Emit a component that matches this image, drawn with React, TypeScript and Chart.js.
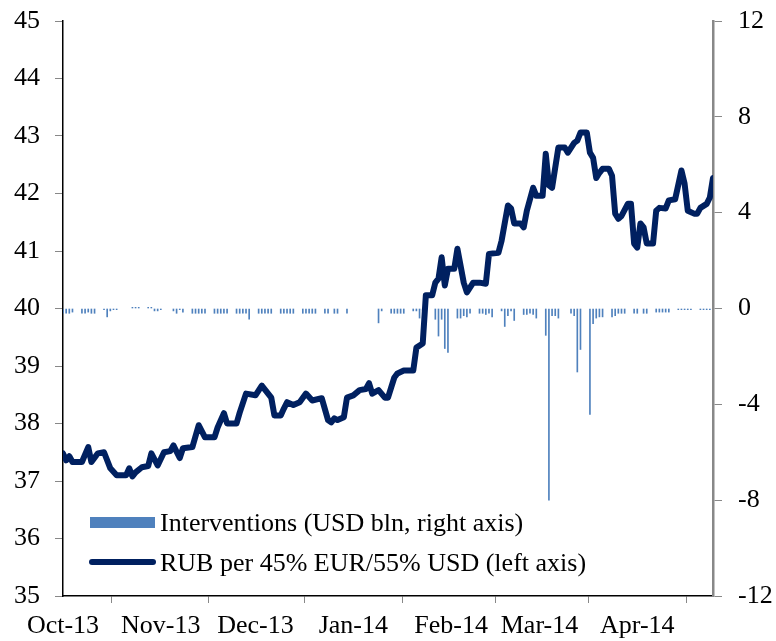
import React, { useEffect, useRef } from "react";
import { Chart, registerables } from "chart.js";

Chart.register(...registerables);

// Day offsets counted from 1 Oct 2013
const MONTH_DAYS = [0, 31, 61, 92, 123, 151, 182];
const MONTH_LABELS = ["Oct-13", "Nov-13", "Dec-13", "Jan-14", "Feb-14", "Mar-14", "Apr-14"];
const X_MAX_DAY = 206;

const LINE_LABEL = "RUB per 45% EUR/55% USD (left axis)";
const BAR_LABEL = "Interventions (USD bln, right axis)";

const LINE_DAYS = [
  0, 1, 2, 3, 6, 8, 9, 11, 13, 15, 17, 20, 21, 22, 23, 25, 27, 28, 30, 32, 34, 35, 37, 38, 41, 43, 45, 48, 49,
  51, 52, 55, 56, 58, 61, 63, 66, 67, 69, 70, 71, 73, 75, 77, 79, 82, 84, 85, 86, 87, 89, 90, 92, 94, 96, 97,
  98, 100, 102, 103, 105, 106, 108, 111, 112, 114, 115, 117, 118, 119, 120, 121, 122, 124, 125, 127, 128, 130,
  132, 134, 135, 138, 139, 141, 142, 143, 145, 146, 147, 149, 150, 152, 153, 154, 155, 157, 159, 160, 162, 163,
  164, 166, 167, 168, 169, 170, 171, 173, 174, 175, 176, 177, 179, 180, 181, 182, 183, 184, 185, 187, 188, 189,
  191, 192, 194, 196, 197, 198, 200, 201, 202, 204, 205, 206,
];
const LINE_VALUES = [
  37.48, 37.36, 37.43, 37.33, 37.33, 37.59, 37.33, 37.48, 37.5, 37.22, 37.1, 37.1, 37.22, 37.08, 37.15, 37.24,
  37.26, 37.48, 37.27, 37.5, 37.52, 37.62, 37.4, 37.57, 37.59, 37.97, 37.76, 37.76, 37.93, 38.18, 38.0, 38.0,
  38.19, 38.52, 38.49, 38.66, 38.45, 38.14, 38.14, 38.26, 38.37, 38.32, 38.37, 38.52, 38.4, 38.44, 38.06, 38.02,
  38.09, 38.06, 38.11, 38.45, 38.49, 38.58, 38.6, 38.7, 38.52, 38.58, 38.45, 38.45, 38.8, 38.87, 38.92, 38.92,
  39.32, 39.39, 40.23, 40.23, 40.45, 40.52, 40.89, 40.4, 40.69, 40.69, 41.04, 40.45, 40.28, 40.45, 40.45, 40.43,
  40.95, 40.97, 41.18, 41.79, 41.74, 41.48, 41.48, 41.41, 41.7, 42.1, 41.96, 41.96, 42.69, 42.14, 42.1, 42.8,
  42.8, 42.71, 42.88, 42.92, 43.06, 43.06, 42.71, 42.62, 42.27, 42.36, 42.43, 42.43, 42.31, 41.65, 41.56, 41.61,
  41.82, 41.82, 41.13, 41.06, 41.48, 41.41, 41.13, 41.13, 41.7, 41.75, 41.74, 41.88, 41.9, 42.4, 42.17, 41.7,
  41.65, 41.65, 41.75, 41.82, 41.93, 42.27,
];

const BAR_DAYS = [
  0, 1, 2, 3, 6, 7, 8, 9, 10, 13, 14, 15, 16, 17, 22, 23, 24, 27, 28, 29, 30, 31, 35, 36, 37, 38, 41, 42, 43, 44,
  45, 48, 49, 50, 51, 52, 55, 56, 57, 58, 59, 62, 63, 64, 65, 66, 69, 70, 71, 72, 73, 76, 77, 78, 79, 80, 83, 84,
  86, 87, 90, 100, 101, 104, 105, 106, 107, 108, 111, 112, 113, 114, 118, 119, 120, 121, 122, 125, 126, 127, 128,
  129, 132, 133, 134, 135, 136, 139, 140, 141, 142, 143, 146, 147, 148, 149, 150, 153, 154, 155, 156, 157, 161,
  162, 163, 164, 167, 168, 169, 170, 171, 174, 175, 176, 177, 178, 181, 182, 184, 185, 188, 189, 190, 191, 192,
  195, 196, 197, 198, 199, 202, 203, 204, 205,
];
const BAR_VALUES = [
  -0.2, -0.2, -0.2, -0.15, -0.2, -0.2, -0.15, -0.2, -0.2, -0.05, -0.35, -0.1, -0.05, -0.05, 0.05, 0.05, 0.05,
  0.05, 0.05, -0.1, -0.1, -0.05, -0.1, -0.2, -0.05, -0.15, -0.2, -0.2, -0.2, -0.2, -0.2, -0.2, -0.2, -0.2, -0.2,
  -0.2, -0.2, -0.2, -0.2, -0.2, -0.45, -0.2, -0.2, -0.2, -0.2, -0.2, -0.2, -0.2, -0.2, -0.2, -0.2, -0.2, -0.2,
  -0.2, -0.2, -0.2, -0.2, -0.2, -0.2, -0.2, -0.2, -0.6, -0.1, -0.2, -0.2, -0.2, -0.2, -0.2, -0.1, -0.1, -0.4,
  -0.1, -0.45, -1.15, -0.45, -1.67, -1.83, -0.4, -0.4, -0.3, -0.35, -0.2, -0.2, -0.2, -0.25, -0.2, -0.35, -0.1,
  -0.75, -0.3, -0.1, -0.5, -0.25, -0.25, -0.2, -0.25, -0.4, -1.12, -8.0, -0.3, -0.3, -0.4, -0.2, -0.3, -2.65,
  -1.71, -4.42, -0.63, -0.4, -0.35, -0.35, -0.35, -0.3, -0.2, -0.2, -0.2, -0.2, -0.2, -0.2, -0.2, -0.15, -0.15,
  -0.15, -0.15, -0.15, -0.05, -0.05, -0.05, -0.05, -0.05, -0.05, -0.05, -0.05, -0.05,
];

const LINE_COLOR = "#002060";
const BAR_COLOR = "#4F81BD";
const FONT_FAMILY = "'Liberation Serif', 'Times New Roman', serif";
const FONT_SIZE = 26;

const legendPlugin = {
  id: "insideLegend",
  afterDraw(chart: any) {
    const { ctx, chartArea } = chart;
    const x0 = chartArea.left + 27;
    const x1 = chartArea.left + 92;
    const textX = chartArea.left + 97;
    ctx.save();
    ctx.fillStyle = BAR_COLOR;
    ctx.fillRect(x0, chartArea.bottom - 79, x1 - x0, 11);
    ctx.strokeStyle = LINE_COLOR;
    ctx.lineWidth = 6;
    ctx.lineCap = "round";
    ctx.beginPath();
    ctx.moveTo(x0 + 2, chartArea.bottom - 34);
    ctx.lineTo(x1 - 2, chartArea.bottom - 34);
    ctx.stroke();
    ctx.fillStyle = "#000";
    ctx.font = `${FONT_SIZE}px ${FONT_FAMILY}`;
    ctx.textAlign = "left";
    ctx.textBaseline = "alphabetic";
    ctx.fillText(BAR_LABEL, textX, chartArea.bottom - 65);
    ctx.fillText(LINE_LABEL, textX, chartArea.bottom - 25);
    ctx.restore();
  },
};

const zeroVerticalPadding = (scale: any) => {
  scale.width = 63;
  scale.paddingTop = 0;
  scale.paddingBottom = 0;
};

export default function App() {
  const canvasRef = useRef<HTMLCanvasElement | null>(null);

  useEffect(() => {
    const canvas = canvasRef.current;
    if (!canvas) return;
    const lineData = LINE_DAYS.map((d, i) => ({ x: d, y: LINE_VALUES[i] }));
    const barData = BAR_DAYS.map((d, i) => ({ x: d, y: BAR_VALUES[i] }));
    const font = { family: FONT_FAMILY, size: FONT_SIZE };

    const chart = new Chart(canvas, {
      type: "bar",
      data: {
        datasets: [
          {
            type: "line",
            label: LINE_LABEL,
            data: lineData,
            xAxisID: "x",
            yAxisID: "y",
            borderColor: LINE_COLOR,
            backgroundColor: LINE_COLOR,
            borderWidth: 6,
            pointRadius: 0,
            tension: 0,
            borderJoinStyle: "round",
            borderCapStyle: "round",
            order: 0,
          } as any,
          {
            type: "bar",
            label: BAR_LABEL,
            data: barData,
            xAxisID: "x",
            yAxisID: "y2",
            backgroundColor: BAR_COLOR,
            borderWidth: 0,
            barThickness: 1,
            order: 1,
          } as any,
        ],
      },
      options: {
        responsive: false,
        animation: false,
        devicePixelRatio: 1,
        layout: { padding: { top: 21, left: 0, right: 0, bottom: 0 } },
        plugins: {
          legend: { display: false },
          tooltip: { enabled: false },
        },
        scales: {
          x: {
            type: "linear",
            min: 0,
            max: X_MAX_DAY,
            offset: false,
            afterBuildTicks: (scale: any) => {
              scale.ticks = MONTH_DAYS.map((v) => ({ value: v }));
            },
            afterFit: (scale: any) => {
              scale.height = 45;
            },
            grid: {
              display: true,
              drawOnChartArea: false,
              drawTicks: true,
              tickLength: 7,
              color: "#888",
              lineWidth: 1,
            },
            border: { display: true, color: "#000", width: 1.5 },
            ticks: {
              autoSkip: false,
              maxRotation: 0,
              padding: 8,
              color: "#000",
              font,
              callback: (value: any) => {
                const idx = MONTH_DAYS.indexOf(Number(value));
                return idx >= 0 ? MONTH_LABELS[idx] : "";
              },
            },
          },
          y: {
            type: "linear",
            position: "left",
            min: 35,
            max: 45,
            afterFit: zeroVerticalPadding,
            grid: {
              display: true,
              drawOnChartArea: false,
              drawTicks: true,
              tickLength: 8,
              color: "#888",
            },
            border: { display: true, color: "#000", width: 1.5 },
            ticks: { stepSize: 1, padding: 15, color: "#000", font },
          },
          y2: {
            type: "linear",
            position: "right",
            min: -12,
            max: 12,
            afterFit: zeroVerticalPadding,
            grid: {
              display: true,
              drawOnChartArea: false,
              drawTicks: true,
              tickLength: 9,
              color: "#888",
            },
            border: { display: true, color: "#888", width: 2.5 },
            ticks: { stepSize: 4, padding: 16, color: "#000", font },
          },
        },
      },
      plugins: [legendPlugin],
    } as any);

    return () => {
      chart.destroy();
    };
  }, []);

  return (
    <div style={{ position: "absolute", left: 0, top: 0, width: 776, height: 641, background: "#fff" }}>
      <canvas ref={canvasRef} width={776} height={641} style={{ display: "block" }} />
    </div>
  );
}
